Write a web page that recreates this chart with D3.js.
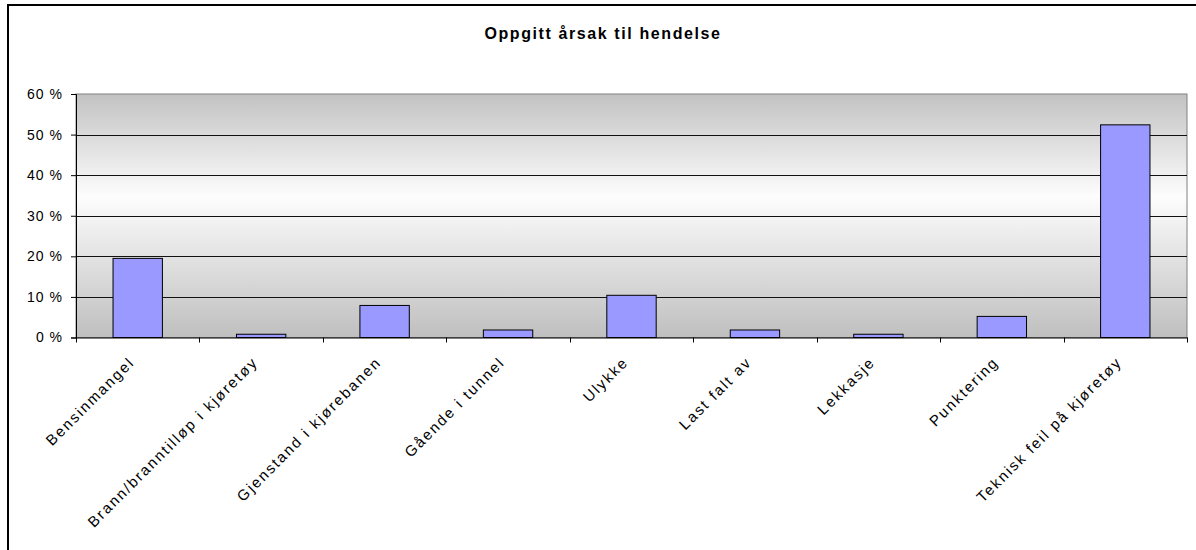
<!DOCTYPE html>
<html>
<head>
<meta charset="utf-8">
<script src="https://cdn.jsdelivr.net/npm/d3@7"></script>
<style>
  html, body { margin: 0; padding: 0; background: #fff; overflow: hidden; }
  svg text { font-family: "Liberation Sans", Arial, sans-serif; fill: #000; }
</style>
</head>
<body>
<div id="chart"></div>
<script>
// Oppgitt årsak til hendelse - data lest av bildet
const categories = [
    'Bensinmangel',
    'Brann/branntilløp i kjøretøy',
    'Gjenstand i kjørebanen',
    'Gående i tunnel',
    'Ulykke',
    'Last falt av',
    'Lekkasje',
    'Punktering',
    'Teknisk feil på kjøretøy'
];
const shares = [19.5, 0.8, 7.9, 1.85, 10.4, 1.85, 0.8, 5.2, 52.4];
const yTicks = [0, 10, 20, 30, 40, 50, 60];
const chartTitle = 'Oppgitt årsak til hendelse';

const W = 1196, H = 550;
const plot = { left: 76, right: 1187, top: 94, bottom: 337.5 };

// Chrome ignorerer letter-spacing ved text-anchor, så vi måler og flytter selv
function placeText(sel, mode) {
    sel.each(function() {
        const x0 = +this.getAttribute('x') || 0;
        this.setAttribute('text-anchor', 'start');
        const w = this.getBBox().width;
        this.setAttribute('x', mode === 'end' ? x0 - w : x0 - w / 2);
    });
}

const svg = d3.select('#chart')
    .append('svg')
    .attr('width', W)
    .attr('height', H);

// ytre ramme
svg.append('rect')
    .attr('x', 8).attr('y', 5)
    .attr('width', 1300).attr('height', 700)
    .attr('fill', '#fff')
    .attr('stroke', '#000')
    .attr('stroke-width', 2);

svg.append('text')
    .attr('x', 603).attr('y', 39)
    .attr('font-size', '16px')
    .attr('font-weight', 'bold')
    .attr('letter-spacing', '1.6px')
    .text(chartTitle)
    .call(placeText, 'middle');

const x = d3.scaleBand()
    .domain(categories)
    .range([plot.left, plot.right])
    .paddingInner(0).paddingOuter(0);

const y = d3.scaleLinear()
    .domain([0, 60])
    .range([plot.bottom, plot.top]);

// bakgrunn med gradient
const defs = svg.append('defs');
const grad = defs.append('linearGradient')
    .attr('id', 'bg-grad')
    .attr('x1', 0).attr('y1', 0).attr('x2', 0).attr('y2', 1);
grad.append('stop').attr('offset', '0%').attr('stop-color', '#c2c2c2');
grad.append('stop').attr('offset', '42%').attr('stop-color', '#fdfdfd');
grad.append('stop').attr('offset', '100%').attr('stop-color', '#bfbfbf');

svg.append('rect')
    .attr('x', plot.left).attr('y', plot.top)
    .attr('width', plot.right - plot.left)
    .attr('height', plot.bottom - plot.top)
    .attr('fill', 'url(#bg-grad)')
    .attr('stroke', '#808080')
    .attr('stroke-width', 1);

// rutenett
svg.append('g')
    .selectAll('line')
    .data(yTicks.filter(d => d > 0 && d < 60))
    .join('line')
    .attr('x1', plot.left).attr('x2', plot.right)
    .attr('y1', d => Math.round(y(d)) + 0.5)
    .attr('y2', d => Math.round(y(d)) + 0.5)
    .attr('stroke', '#111')
    .attr('stroke-width', 1);

// søyler
svg.append('g')
    .selectAll('rect')
    .data(categories)
    .join('rect')
    .attr('x', d => x(d) + x.bandwidth() * 0.3)
    .attr('width', x.bandwidth() * 0.4)
    .attr('y', (d, i) => y(shares[i]))
    .attr('height', (d, i) => y(0) - y(shares[i]))
    .attr('fill', '#9999ff')
    .attr('stroke', '#000')
    .attr('stroke-width', 1);

// y-akse
const yAxis = svg.append('g')
    .attr('transform', `translate(${plot.left},0)`)
    .call(d3.axisLeft(y)
        .tickValues(yTicks)
        .tickSize(5)
        .tickPadding(8)
        .tickFormat(d => d + ' %'));
yAxis.select('.domain').attr('stroke', '#000');
yAxis.selectAll('.tick line').attr('stroke', '#000');
yAxis.selectAll('.tick text')
    .attr('font-size', '14px')
    .attr('letter-spacing', '1px')
    .attr('font-family', '"Liberation Sans", Arial, sans-serif')
    .call(placeText, 'end');

// x-akse
const xAxis = svg.append('g')
    .attr('transform', `translate(0,${plot.bottom})`)
    .call(d3.axisBottom(x).tickSize(0).tickFormat(''));
xAxis.select('.domain').attr('stroke', '#000');

// skillestreker mellom kategorier
const bounds = categories.map(c => x(c)).concat([plot.right]);
xAxis.append('g')
    .selectAll('line')
    .data(bounds)
    .join('line')
    .attr('x1', d => Math.round(d) + 0.5).attr('x2', d => Math.round(d) + 0.5)
    .attr('y1', 0).attr('y2', 5)
    .attr('stroke', '#000');

// roterte kategorietiketter
svg.append('g')
    .selectAll('text')
    .data(categories)
    .join('text')
    .attr('transform', d => `translate(${x(d) + x.bandwidth() / 2 - 6},${plot.bottom + 22}) rotate(-45)`)
    .attr('x', 0)
    .attr('dy', '0.35em')
    .attr('font-size', '15px')
    .attr('letter-spacing', '1.9px')
    .text(d => d)
    .call(placeText, 'end');
</script>
</body>
</html>
